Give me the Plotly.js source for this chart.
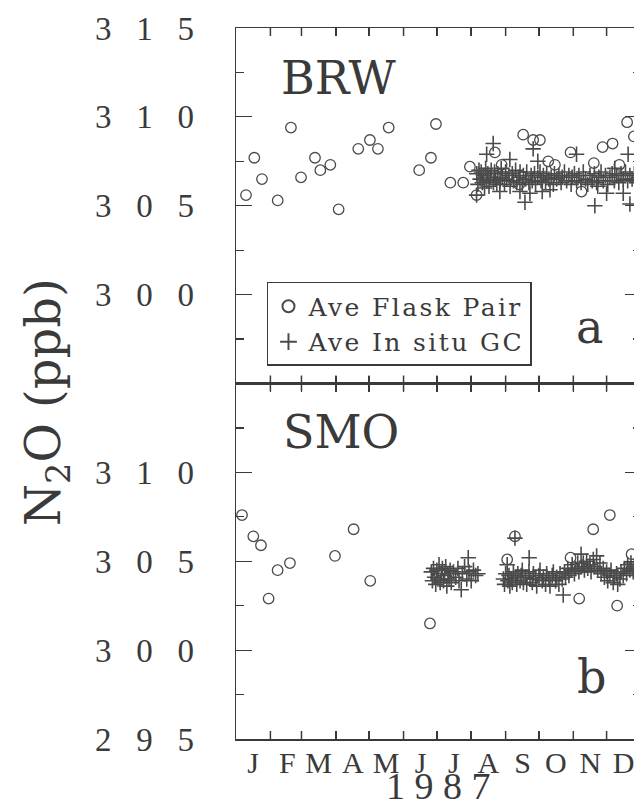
<!DOCTYPE html>
<html>
<head>
<meta charset="utf-8">
<script src="https://cdn.plot.ly/plotly-3.0.1.min.js"></script>
<style>
html, body { margin: 0; padding: 0; overflow: hidden; background: #fff; }
.legendtext { letter-spacing: 2.4px; }
</style>
</head>
<body>
<div id="chart"></div>
<script>
// ---- Data (x = day of year 1987, y = N2O in ppb) ----
const monthLabels = ['J','F','M','A','M','J','J','A','S','O','N','D'];
const monthStart = [0, 31, 59, 90, 120, 151, 181, 212, 243, 273, 304, 334];

const yTickValsTop = [300, 305, 310, 315];
const yTickTextTop = ['3\u2002\u00A00\u2002\u00A00', '3\u2002\u00A00\u2002\u00A05', '3\u2002\u00A01\u2002\u00A00', '3\u2002\u00A01\u2002\u00A05'];
const yTickValsBot = [295, 300, 305, 310];
const yTickTextBot = ['2\u2002\u00A09\u2002\u00A05', '3\u2002\u00A00\u2002\u00A00', '3\u2002\u00A00\u2002\u00A05', '3\u2002\u00A01\u2002\u00A00'];
const yearLabel = '1\u00A09\u00A08\u00A07';

// BRW (panel a) – average flask pair
const brwFlaskDay = [9, 16.5, 23.4, 37.6, 49.5, 58.6, 71.2, 76, 85, 92.5, 110.2, 120.7, 127.9, 137.6,
  165.1, 175.7, 180.2, 193.2, 204.8, 210.8, 216.8, 233.3, 239.4, 255.2, 258.8, 267.8, 273.9,
  281.4, 287.4, 301.5, 311.4, 322.5, 330.4, 339.4, 345.5, 352.5, 358.6];
const brwFlaskN2O = [305.6, 307.7, 306.5, 305.3, 309.4, 306.6, 307.7, 307.0, 307.3, 304.8, 308.2, 308.7, 308.2, 309.4,
  307.0, 307.7, 309.6, 306.3, 306.3, 307.2, 305.6, 308.0, 307.3, 306.2, 309.0, 308.7, 308.7,
  307.5, 307.3, 308.0, 305.8, 307.4, 308.3, 308.5, 307.3, 309.7, 308.9];

// BRW – average in situ GC
const brwGCDay = [217, 218, 219, 220, 221, 222, 223, 224, 225, 226, 227, 228, 229, 230, 232, 233, 234, 235, 236, 238,
  239, 240, 242, 243, 244, 246, 247, 249, 250, 252, 253, 255, 256, 258, 259, 261, 262, 264, 266, 267,
  269, 270, 272, 274, 275, 277, 279, 280, 282, 284, 286, 287, 289, 291, 293, 294, 296, 298, 300, 302,
  303, 305, 307, 309, 311, 313, 315, 317, 319, 321, 323, 325, 327, 329, 331, 333, 335, 337, 339, 341,
  343, 345, 347, 349, 351, 353, 355, 357, 359, 361, 363,
  216.8, 225.9, 231.8, 237.8, 246.8, 255.9, 260.4, 264.9, 267.8, 272, 276, 283, 306.9, 323.4, 326,
  334, 341.4, 349, 353.4, 355];
const brwGCN2O = [306.8, 306.2, 307.0, 306.5, 306.9, 306.3, 306.7, 306.0, 307.1, 306.4, 306.8, 306.1, 306.6, 307.0, 306.3, 306.9, 306.5, 306.2, 306.8, 306.4,
  307.1, 306.6, 306.2, 306.9, 306.5, 306.7, 306.1, 306.8, 306.4, 307.0, 306.3, 306.6, 306.9, 306.2, 306.7, 306.5, 306.9, 306.3, 306.7, 306.4,
  306.8, 306.2, 306.6, 306.9, 306.4, 306.7, 306.3, 306.8, 306.5, 306.6, 306.2, 306.8, 306.5, 306.7, 306.3, 306.6, 306.9, 306.4, 306.7, 306.2,
  306.6, 306.8, 306.4, 306.7, 306.3, 306.9, 306.5, 306.2, 306.7, 306.4, 306.8, 306.3, 306.6, 306.9, 306.4, 306.7, 306.2, 306.6, 306.8, 306.4,
  306.7, 306.3, 306.8, 306.5, 306.9, 306.4, 306.7, 306.5, 306.8, 306.3, 306.6,
  305.6, 307.9, 308.5, 305.8, 307.6, 305.8, 305.2, 305.7, 308.2, 307.5, 305.8, 305.9, 307.9, 305.0, 306.1,
  305.7, 307.1, 305.7, 307.9, 305.1];

// SMO (panel b) – average flask pair
const smoFlaskDay = [5.4, 15.6, 22.5, 29.4, 37.5, 48.6, 89.2, 106, 121, 174.8, 244.4, 251.4, 266.4,
  301.5, 309.3, 321.9, 336.9, 343.5, 356.5];
const smoFlaskN2O = [307.6, 306.4, 305.9, 302.9, 304.5, 304.9, 305.3, 306.8, 303.9, 301.5, 305.1, 306.4, 303.9,
  305.2, 302.9, 306.8, 307.6, 302.5, 305.4];

// SMO – average in situ GC
const smoGCDay = [176, 177, 178, 179, 180, 181, 182, 183, 184, 185, 186, 187, 188, 189, 190, 191, 192, 193, 194, 196,
  198, 200, 201, 203, 204, 206, 208, 209.3, 210, 212, 214, 216, 218,
  241, 242, 243, 244.4, 245, 246, 246.8, 248, 249, 250, 251.4, 252, 253, 254, 256, 257, 258, 259, 261, 262,
  264, 264.2, 265, 267, 268, 270, 271, 273, 274, 276, 277, 279, 280, 282, 283, 285, 286, 288, 289, 291,
  292, 294, 294.9, 296, 297, 299, 300, 302, 303, 305, 306, 308, 309, 311, 311.5, 313, 314, 316, 317, 319,
  320, 322, 323, 325, 326, 328, 329, 331, 332, 334, 335, 337, 338, 340, 341, 343, 344, 346, 347, 349,
  350, 352, 353, 355, 356, 358, 359, 361, 363];
const smoGCN2O = [304.4, 303.9, 304.6, 304.1, 303.7, 304.5, 304.0, 304.8, 303.8, 304.3, 304.6, 303.9, 304.2, 304.7, 303.6, 304.3, 304.0, 304.5, 303.8, 304.4,
  304.1, 304.6, 303.9, 303.4, 304.3, 304.7, 304.0, 305.2, 304.4, 303.9, 304.5, 304.2, 304.3,
  304.0, 303.7, 304.3, 304.8, 303.9, 304.2, 303.6, 304.0, 303.8, 304.4, 306.3, 304.1, 303.7, 304.3, 303.9, 304.2, 304.5, 303.8, 304.1, 303.7,
  304.4, 305.2, 304.0, 303.8, 304.3, 304.0, 303.6, 304.2, 304.5, 303.9, 304.1, 303.7, 304.3, 304.0, 303.6, 304.2, 304.4, 303.9, 304.1, 303.7,
  304.3, 304.0, 303.1, 304.4, 304.1, 304.6, 304.2, 304.5, 304.8, 304.3, 304.6, 304.9, 304.4, 305.4, 304.7, 304.9, 304.5, 305.0, 304.6, 304.8,
  304.4, 305.1, 304.7, 305.3, 304.5, 304.9, 304.3, 304.6, 304.1, 304.4, 303.9, 304.2, 304.5, 303.8, 304.1, 304.3, 303.7, 304.0, 304.4, 304.2,
  304.6, 304.3, 304.8, 304.5, 304.9, 304.4, 304.7, 304.2, 304.6];

// ---- Styling ----
const ink = '#3a3a3a';
const markInk = '#4a4a4a';
const serif = 'Liberation Serif, serif';
const dejavu = 'DejaVu Serif, serif';

const circleMarker = { symbol: 'circle-open', size: 10.5, color: markInk, line: { width: 1.3, color: markInk } };
const plusMarker = { symbol: 'cross-thin-open', size: 11, color: markInk, line: { width: 1.6, color: markInk } };

const traces = [
  { x: brwFlaskDay, y: brwFlaskN2O, xaxis: 'x2', yaxis: 'y2', mode: 'markers', type: 'scatter',
    name: 'Ave Flask Pair', marker: circleMarker },
  { x: brwGCDay, y: brwGCN2O, xaxis: 'x2', yaxis: 'y2', mode: 'markers', type: 'scatter',
    name: 'Ave In situ GC', marker: plusMarker },
  { x: smoGCDay, y: smoGCN2O, xaxis: 'x', yaxis: 'y', mode: 'markers', type: 'scatter',
    name: 'Ave In situ GC', marker: plusMarker, showlegend: false },
  { x: smoFlaskDay, y: smoFlaskN2O, xaxis: 'x', yaxis: 'y', mode: 'markers', type: 'scatter',
    name: 'Ave Flask Pair', marker: circleMarker, showlegend: false }
];

// Ticks at month boundaries; labels shifted half a month to sit inside each month
function monthAxis(anchor, labels) {
  return {
    anchor: anchor, range: [0, 365],
    showline: true, linecolor: ink, linewidth: 1.5, mirror: 'allticks',
    showgrid: false, zeroline: false,
    tickmode: 'array', tickvals: monthStart, ticktext: monthLabels,
    ticks: 'inside', ticklen: 8, tickcolor: ink, tickwidth: 1.5,
    showticklabels: labels,
    tickfont: { family: serif, size: 30, color: ink },
    ticklabelshift: 17, ticklabelstandoff: -4
  };
}
const xa = monthAxis('y', true);
const xa2 = monthAxis('y2', false);

function yAxisBase(vals, text) {
  return {
    range: [295, 315], showgrid: false, zeroline: false,
    showline: true, linecolor: ink, linewidth: 1.5, mirror: 'allticks',
    tickmode: 'array', tickvals: vals, ticktext: text,
    ticks: 'inside', ticklen: 16, tickwidth: 1.2, tickcolor: ink,
    minor: { tickmode: 'linear', tick0: 297.5, dtick: 5, ticks: 'inside', ticklen: 8, tickwidth: 1.2, tickcolor: ink, showgrid: false },
    tickfont: { family: serif, size: 33, color: ink },
    ticklabelstandoff: 34
  };
}
const ya = yAxisBase(yTickValsBot, yTickTextBot);
ya.domain = [0, 0.5];
ya.anchor = 'x';
const ya2 = yAxisBase(yTickValsTop, yTickTextTop);
ya2.domain = [0.5, 1];
ya2.anchor = 'x2';

// Month-boundary tick marks on the upper and lower edge of each panel (placed via the x scale)
const tickFrac = 8 / 355.5;
const monthTickShapes = [];
[['x', 'y domain'], ['x2', 'y2 domain']].forEach(([xr, yr]) => {
  monthStart.slice(1).forEach(d => {
    monthTickShapes.push({ type: 'line', xref: xr, yref: yr, x0: d, x1: d, y0: 0, y1: tickFrac,
      line: { color: ink, width: 1.5 } });
    monthTickShapes.push({ type: 'line', xref: xr, yref: yr, x0: d, x1: d, y0: 1 - tickFrac, y1: 1,
      line: { color: ink, width: 1.5 } });
  });
});

const layout = {
  width: 660, height: 805,
  margin: { l: 236, r: 19, t: 28, b: 66 },
  paper_bgcolor: '#ffffff', plot_bgcolor: '#ffffff',
  font: { family: serif, color: ink },
  xaxis: xa, xaxis2: xa2, yaxis: ya, yaxis2: ya2,
  shapes: monthTickShapes,
  showlegend: true,
  legend: {
    x: 0.0765, y: 0.6428, xanchor: 'left', yanchor: 'top',
    bordercolor: ink, borderwidth: 1.5, bgcolor: '#ffffff',
    font: { family: dejavu, size: 25, color: ink },
    tracegroupgap: 0, itemsizing: 'constant', traceorder: 'normal'
  },
  annotations: [
    { text: 'BRW', xref: 'paper', yref: 'paper', x: 0.252, y: 0.9297, showarrow: false,
      xanchor: 'center', yanchor: 'middle', font: { family: dejavu, size: 46, color: ink } },
    { text: 'SMO', xref: 'paper', yref: 'paper', x: 0.259, y: 0.4318, showarrow: false,
      xanchor: 'center', yanchor: 'middle', font: { family: dejavu, size: 46, color: ink } },
    { text: 'a', xref: 'paper', yref: 'paper', x: 0.874, y: 0.5795, showarrow: false,
      xanchor: 'center', yanchor: 'middle', font: { family: dejavu, size: 46, color: ink } },
    { text: 'b', xref: 'paper', yref: 'paper', x: 0.879, y: 0.0872, showarrow: false,
      xanchor: 'center', yanchor: 'middle', font: { family: dejavu, size: 46, color: ink } },
    { text: 'N<sub>2</sub>O (ppb)', xref: 'paper', yref: 'paper', x: -0.4667, y: 0.474, showarrow: false,
      textangle: -90, xanchor: 'center', yanchor: 'middle', font: { family: dejavu, size: 48, color: ink } },
    { text: yearLabel, xref: 'paper', yref: 'paper', x: 0.5, y: -0.0665, showarrow: false,
      xanchor: 'center', yanchor: 'middle', font: { family: serif, size: 38, color: ink } }
  ]
};

Plotly.newPlot('chart', traces, layout, { displayModeBar: false, staticPlot: true });
</script>
</body>
</html>
